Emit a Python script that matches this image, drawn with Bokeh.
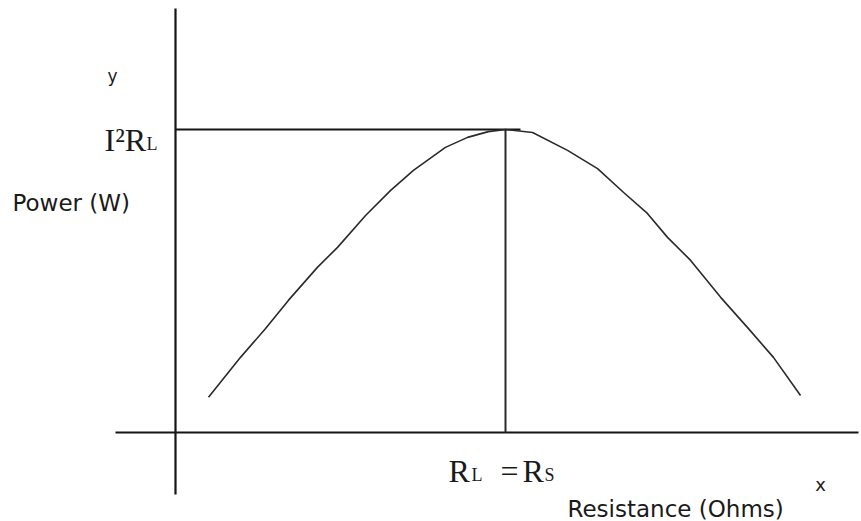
from bokeh.plotting import figure
from bokeh.models import Range1d
from bokeh.core.properties import value
from bokeh.embed import file_html
from bokeh.resources import INLINE

# Data (arbitrary units): resistance vs power, peak where R_L = R_S
resistance = [1.0, 1.97, 2.73, 3.42, 4.30, 4.91, 5.76, 6.52, 7.21, 8.18, 8.85, 9.48,
              10.0, 10.82, 11.88, 12.79, 13.58, 14.30, 14.91, 15.61, 16.52, 17.33, 18.12, 18.94]
power = [1.16, 2.48, 3.43, 4.36, 5.45, 6.11, 7.16, 7.99, 8.65, 9.41, 9.74, 9.93,
         10.0, 9.90, 9.31, 8.71, 7.92, 7.23, 6.44, 5.68, 4.46, 3.47, 2.48, 1.22]
r_source = 10.0      # R_L = R_S
p_max = 10.0         # I^2 R_L

W, H = 861, 521
SX, SY = 33.0, 30.3          # pixels per unit
OX, OY = 175, 432            # origin position in pixels
X0, X1 = -OX / SX, (W - OX) / SX
Y0, Y1 = (OY - H) / SY, OY / SY

def dx(px):
    return (px - OX) / SX

def dy(py):
    return (OY - py) / SY

p = figure(width=W, height=H, x_range=Range1d(X0, X1), y_range=Range1d(Y0, Y1),
           output_backend="svg", toolbar_location=None,
           x_axis_type=None, y_axis_type=None, min_border=0)
p.outline_line_color = None
p.background_fill_color = "white"
p.border_fill_color = "white"

AX = "#151515"
TXT = "#1a1a1a"

# axes
p.line([0, 0], [dy(8), dy(494)], line_color=AX, line_width=2.2)
p.line([dx(115), dx(858)], [0, 0], line_color=AX, line_width=2.2)

# guide lines at maximum power
p.line([0, dx(520)], [p_max, p_max], line_color=AX, line_width=2)
p.line([r_source, r_source], [0, p_max], line_color="#2a2a2a", line_width=2)

# curve
p.line(resistance, power, line_color="#2a2a2a", line_width=1.6)

serif = value("Liberation Serif")
sans = value("DejaVu Sans")

def txt(x, y, s, size, font, align="left", baseline="alphabetic"):
    p.text([x], [y], text=[s], text_font=font, text_font_size=size,
           text_color=TXT, text_align=align, text_baseline=baseline)

# y-axis labels
txt(dx(112), dy(75), "y", "17px", sans, align="center")
txt(dx(104), dy(139), "I\u00b2R", "32px", serif)
txt(dx(146), dy(143), "L", "18px", serif)
txt(dx(12), dy(202), "Power (W)", "23px", sans)

# x-axis labels
txt(dx(448), dy(470), "R", "32px", serif)
txt(dx(471), dy(474), "L", "18px", serif)
txt(dx(500), dy(470), "=", "32px", serif)
txt(dx(522), dy(470), "R", "32px", serif)
txt(dx(544), dy(474), "S", "18px", serif)
txt(dx(820), dy(484), "x", "18px", sans, align="center")
txt(dx(567), dy(508), "Resistance (Ohms)", "23px", sans)

open("out.html", "w").write(file_html(p, INLINE))
